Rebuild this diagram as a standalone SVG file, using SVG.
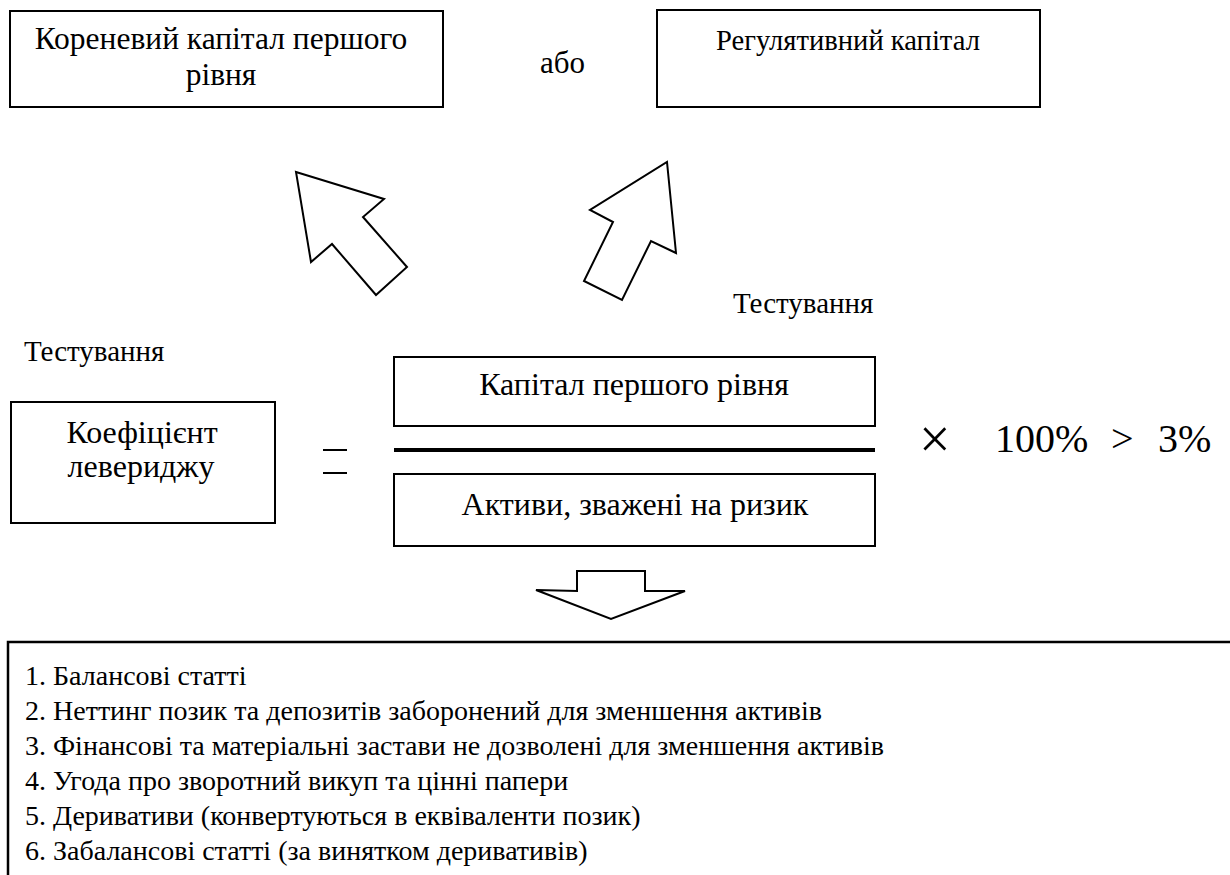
<svg xmlns="http://www.w3.org/2000/svg" width="1230" height="875" viewBox="0 0 1230 875">
<style>
.box{fill:#fff;stroke:#000;stroke-width:2}
.arr{fill:#fff;stroke:#000;stroke-width:2;stroke-linejoin:miter}
</style>
<rect width="1230" height="875" fill="#fff"/>
<g id="root-capital">
<rect class="box" x="10" y="11" width="433" height="96"/>
<text x="221" y="49" font-size="31.5" text-anchor="middle" font-family="'Liberation Serif', serif">Кореневий капітал першого</text>
<text x="221" y="85" font-size="31.5" text-anchor="middle" font-family="'Liberation Serif', serif">рівня</text>
</g>
<g id="or-label"><text x="540" y="73" font-size="31" font-family="'Liberation Serif', serif">або</text></g>
<g id="regulatory-capital">
<rect class="box" x="657" y="10" width="383" height="97"/>
<text x="848" y="50" font-size="28.6" text-anchor="middle" font-family="'Liberation Serif', serif">Регулятивний капітал</text>
</g>
<g id="connectors">
<polygon class="arr" points="296,172 384,199 363,217 407,267 376,295 332,244 311,262"/>
<polygon class="arr" points="667,162 676,253 651,241 622,300 584,281 613,222 590,210"/>
<polygon class="arr" points="577,571 645,571 645,591 685,591 611,619 536,590 577,591"/>
</g>
<g id="testing-right"><text x="733" y="313" font-size="29" font-family="'Liberation Serif', serif">Тестування</text></g>
<g id="testing-left"><text x="24" y="361" font-size="29" font-family="'Liberation Serif', serif">Тестування</text></g>
<g id="leverage-ratio">
<rect class="box" x="11" y="402" width="264" height="121"/>
<text x="142" y="443" font-size="32" text-anchor="middle" font-family="'Liberation Serif', serif">Коефіцієнт</text>
<text x="141" y="477" font-size="32" text-anchor="middle" font-family="'Liberation Serif', serif">левериджу</text>
</g>
<g id="equals">
<line x1="323" y1="450" x2="347" y2="450" stroke="#000" stroke-width="2"/>
<line x1="323" y1="473" x2="347" y2="473" stroke="#000" stroke-width="2"/>
</g>
<g id="tier1-capital">
<rect class="box" x="394" y="357" width="481" height="69"/>
<text x="634" y="395" font-size="32" text-anchor="middle" font-family="'Liberation Serif', serif">Капітал першого рівня</text>
</g>
<g id="fraction-bar"><line x1="394" y1="450" x2="875" y2="450" stroke="#000" stroke-width="4"/></g>
<g id="risk-weighted-assets">
<rect class="box" x="394" y="474" width="481" height="72"/>
<text x="635" y="515" font-size="32" text-anchor="middle" font-family="'Liberation Serif', serif">Активи, зважені на ризик</text>
</g>
<g id="formula-tail">
<text x="919" y="458" font-size="56" font-family="'Liberation Serif', serif">×</text>
<text x="995" y="452" font-size="40" font-family="'Liberation Serif', serif">100%</text>
<text x="1111" y="452" font-size="40" font-family="'Liberation Serif', serif">&gt;</text>
<text x="1158" y="452" font-size="40" font-family="'Liberation Serif', serif">3%</text>
</g>
<g id="exposure-list" font-size="28">
<path d="M8,875 V642 H1232" fill="none" stroke="#000" stroke-width="2.5"/>
<text x="25" y="685" font-family="'Liberation Serif', serif">1. Балансові статті</text>
<text x="25" y="720" font-family="'Liberation Serif', serif">2. Неттинг позик та депозитів заборонений для зменшення активів</text>
<text x="25" y="755" font-family="'Liberation Serif', serif">3. Фінансові та матеріальні застави не дозволені для зменшення активів</text>
<text x="25" y="790" font-family="'Liberation Serif', serif">4. Угода про зворотний викуп та цінні папери</text>
<text x="25" y="825" font-family="'Liberation Serif', serif">5. Деривативи (конвертуються в еквіваленти позик)</text>
<text x="25" y="860" font-family="'Liberation Serif', serif">6. Забалансові статті (за винятком деривативів)</text>
</g>
</svg>
